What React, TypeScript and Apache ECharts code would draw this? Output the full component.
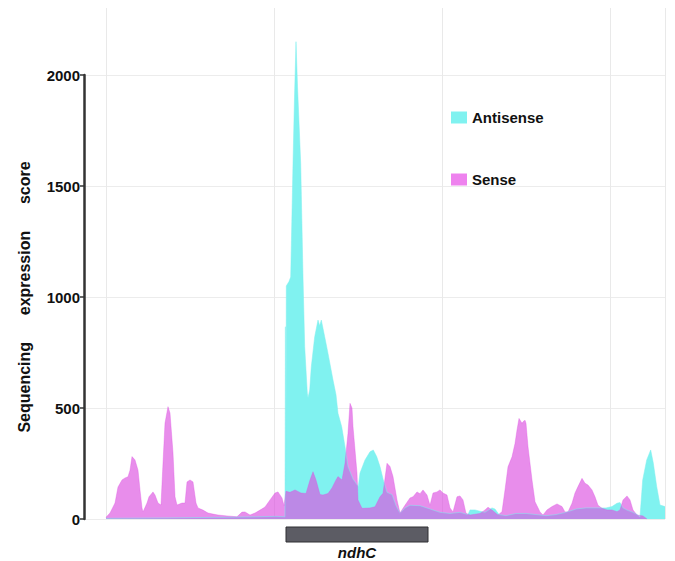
import React, { useEffect, useRef } from "react";
import * as echarts from "echarts";

// position along the region (relative units), expression score
const senseData: [number, number][] = [
  [0, 8], [4, 27], [9, 72], [12, 144], [16, 176], [19, 185], [22, 190], [24, 220], [26, 281], [29, 266],
  [32, 220], [34, 131], [36, 50], [37, 32], [41, 72], [43, 100], [47, 122], [49, 108], [52, 72], [55, 63],
  [57, 252], [59, 432], [62, 506], [64, 477], [67, 297], [69, 100], [71, 63], [76, 72], [79, 72], [81, 167],
  [84, 176], [87, 167], [90, 72], [92, 50], [97, 40], [102, 27], [107, 22], [112, 18], [121, 14], [131, 10],
  [136, 31], [139, 32], [144, 18], [149, 27], [154, 40], [159, 54], [164, 86], [169, 117], [172, 122], [176, 95],
  [178, 60], [180, 125], [184, 120], [189, 131], [195, 117], [200, 115], [204, 176], [207, 213], [210, 176], [214, 110],
  [217, 108], [222, 115], [226, 140], [230, 176], [232, 191], [236, 176], [239, 251], [242, 386], [244, 521], [246, 500],
  [247, 416], [249, 311], [251, 206], [252, 86], [256, 48], [264, 50], [269, 55], [274, 100], [277, 116], [281, 251],
  [284, 236], [287, 191], [291, 86], [294, 27], [299, 62], [304, 95], [307, 100], [311, 122], [314, 114], [317, 131],
  [321, 108], [324, 62], [327, 117], [331, 122], [334, 131], [337, 117], [341, 108], [344, 50], [347, 32], [351, 100],
  [354, 104], [357, 86], [360, 26], [364, 18], [374, 25], [379, 41], [382, 53], [386, 40], [392, 18], [396, 33],
  [399, 131], [402, 235], [406, 280], [409, 340], [411, 401], [413, 453], [416, 431], [417, 438], [419, 445], [420, 431],
  [422, 326], [426, 176], [429, 78], [434, 32], [437, 18], [441, 41], [446, 56], [451, 68], [456, 56], [459, 32],
  [462, 32], [466, 71], [469, 117], [472, 146], [476, 183], [479, 161], [482, 153], [486, 131], [489, 100], [492, 62],
  [496, 48], [501, 41], [506, 41], [511, 33], [514, 41], [517, 86], [521, 104], [524, 86], [527, 41], [531, 18],
  [537, 14], [541, 0],
];

const antisenseData: [number, number][] = [
  [0, 3], [60, 5], [120, 8], [150, 10], [170, 12], [179, 10], [179.4, 866], [179.9, 150], [180.3, 1050], [183, 1070],
  [184.7, 1090], [187, 1602], [188.5, 1900], [190, 2150], [191.5, 1950], [194.7, 1602], [197, 1090], [198.7, 776], [201.3, 567], [202, 545],
  [203.7, 581], [205.3, 686], [208.7, 821], [212, 896], [213.7, 870], [215.3, 896], [218.7, 821], [222, 746], [227, 626], [230, 560],
  [232, 476], [235.7, 416], [239, 326], [242, 236], [247, 180], [252.3, 146], [254, 207], [259, 266], [264, 303], [267.3, 311],
  [270.7, 281], [274, 236], [277.3, 176], [281, 120], [286, 110], [290, 60], [294, 26], [299, 50], [304, 62], [314, 60],
  [324, 45], [334, 30], [344, 25], [354, 30], [362, 20], [364, 41], [369, 41], [374, 35], [379, 30], [386, 50],
  [389, 45], [393, 20], [400, 15], [410, 25], [420, 25], [430, 20], [440, 15], [450, 20], [460, 30], [470, 45],
  [480, 50], [490, 50], [500, 50], [506, 56], [511, 71], [514, 74], [517, 50], [521, 40], [527, 30], [531, 20],
  [534, 10], [536.7, 176], [540.7, 266], [544.7, 311], [547.3, 252], [550.7, 146], [554, 63], [559, 56],
];

const gene: { name: string; start: number; end: number } = { name: "ndhC", start: 180, end: 322 };

const yTicks = { min: 0, max: 2000, interval: 500 };
const seriesNames = ["Antisense", "Sense"];
const NB6 = "\u00a0\u00a0\u00a0\u00a0\u00a0\u00a0";
const yName = "Sequencing" + NB6 + "expression" + NB6 + "score";

const FONT = "'Liberation Sans', Arial, Helvetica, sans-serif";

export default function App() {
  const ref = useRef<HTMLDivElement>(null);
  useEffect(() => {
    if (!ref.current) return;
    const chart = echarts.init(ref.current, undefined, { renderer: "svg" });
    chart.setOption({
      animation: false,
      backgroundColor: "#ffffff",
      grid: [
        { left: 84, right: 10, top: 75, bottom: 42 },
        { left: 106, right: 10, top: 8, bottom: 42 },
      ],
      xAxis: [
        { type: "value", gridIndex: 0, min: -22, max: 559, show: false },
        {
          type: "value", gridIndex: 1, min: 0, max: 559, interval: 168,
          axisLine: { show: false }, axisTick: { show: false }, axisLabel: { show: false },
          splitLine: { show: true, lineStyle: { color: "#e9e9e9", width: 1 } },
        },
      ],
      yAxis: [
        {
          type: "value", gridIndex: 0, min: yTicks.min, max: yTicks.max, interval: yTicks.interval,
          name: yName, nameLocation: "middle", nameGap: 52,
          nameTextStyle: { fontFamily: FONT, fontWeight: "bold", fontSize: 16, color: "#111" },
          axisLine: { show: true, onZero: false, lineStyle: { color: "#333", width: 2.5 } },
          axisTick: { show: true, length: 4, lineStyle: { color: "#333", width: 1.5 } },
          axisLabel: {
            fontFamily: FONT, fontWeight: "bold", fontSize: 15, color: "#111", margin: 4,
            formatter: (v: number) => String(v),
          },
          splitLine: { show: true, lineStyle: { color: "#ececec", width: 1 } },
        },
        { type: "value", gridIndex: 1, show: false, min: 0, max: 1 },
      ],
      legend: {
        orient: "vertical", left: 446, top: 105, itemWidth: 16, itemHeight: 12, itemGap: 47,
        icon: "rect",
        textStyle: { fontFamily: FONT, fontWeight: "bold", fontSize: 15, color: "#111" },
        data: [
          { name: seriesNames[0], itemStyle: { color: "#80F2F0" } },
          { name: seriesNames[1], itemStyle: { color: "#EE82EE" } },
        ],
      },
      series: [
        {
          name: seriesNames[0], type: "line", xAxisIndex: 0, yAxisIndex: 0,
          data: antisenseData, showSymbol: false, symbol: "none", clip: false,
          itemStyle: { color: "#80F2F0" },
          lineStyle: { width: 0.5, color: "#7eeeee" },
          areaStyle: { color: "#80F2F0", opacity: 1 },
        },
        {
          name: seriesNames[1], type: "line", xAxisIndex: 0, yAxisIndex: 0,
          data: senseData, showSymbol: false, symbol: "none", clip: false,
          itemStyle: { color: "#EE82EE" },
          lineStyle: { width: 0.5, color: "rgba(220,80,225,0.7)" },
          areaStyle: { color: "rgba(220,80,225,0.65)", opacity: 1 },
        },
        {
          type: "custom", xAxisIndex: 0, yAxisIndex: 0, clip: false, silent: true,
          data: [[gene.start, gene.end]],
          encode: { x: [0, 1] },
          renderItem: (params: any, api: any) => {
            const s = api.coord([api.value(0), 0]);
            const e = api.coord([api.value(1), 0]);
            return {
              type: "group",
              children: [
                {
                  type: "rect",
                  shape: { x: s[0], y: s[1] + 8, width: e[0] - s[0], height: 15 },
                  style: { fill: "#5c5c64", stroke: "#2e2e33", lineWidth: 1 },
                },
                {
                  type: "text",
                  x: (s[0] + e[0]) / 2,
                  y: s[1] + 33,
                  style: {
                    text: gene.name, fontFamily: FONT, fontWeight: "bold", fontStyle: "italic",
                    fontSize: 15, fill: "#111", align: "center", verticalAlign: "middle",
                  },
                },
              ],
            };
          },
        },
      ],
    });
    return () => chart.dispose();
  }, []);
  return <div ref={ref} style={{ position: "fixed", left: 0, top: 0, width: 675, height: 561 }} />;
}
